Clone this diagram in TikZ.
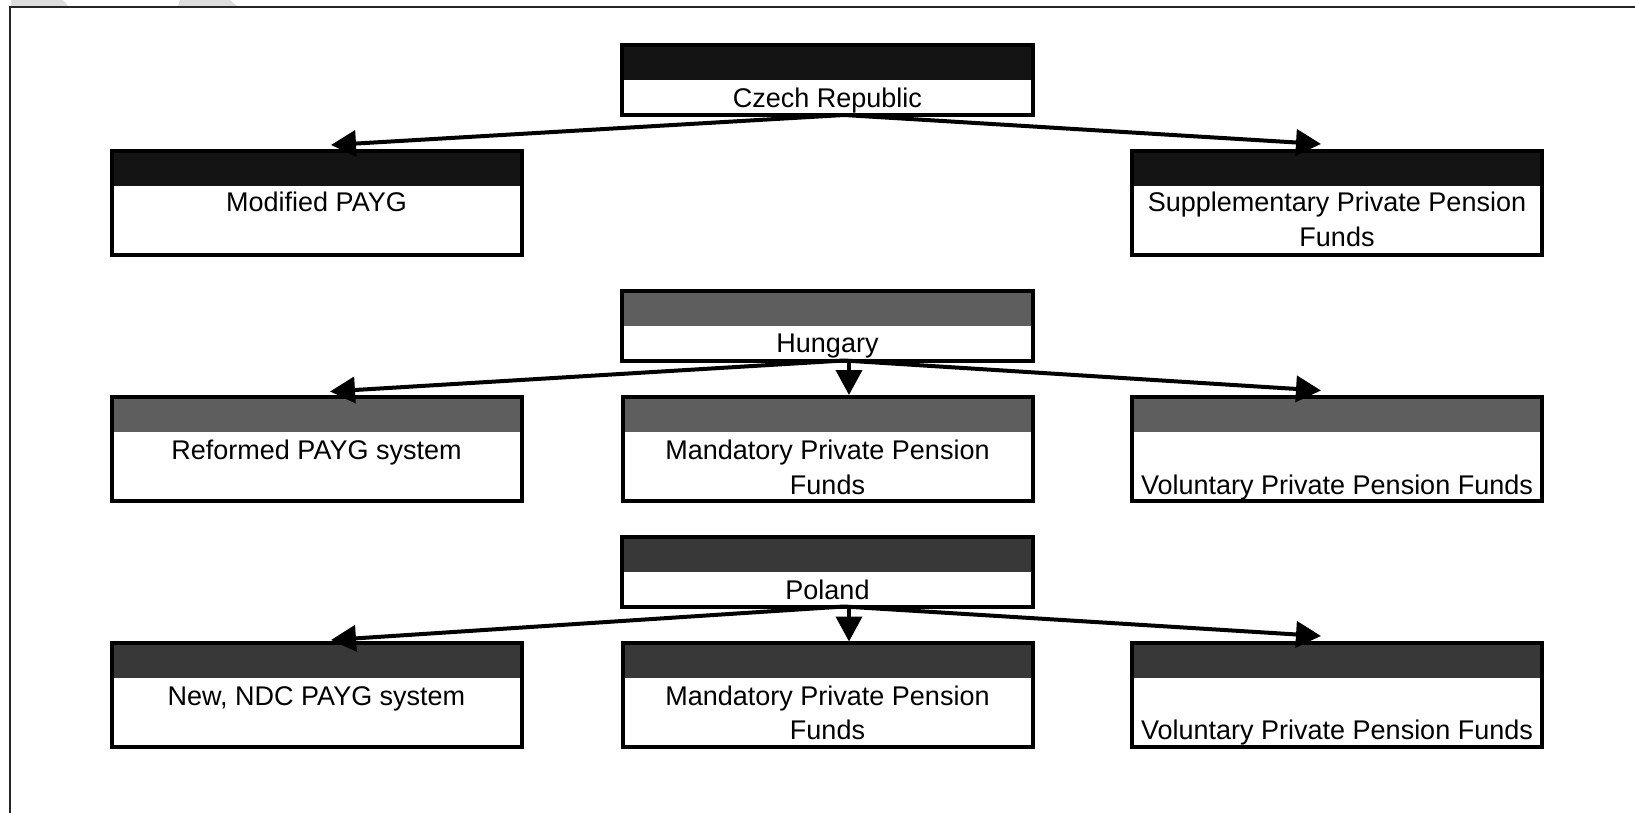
\documentclass[tikz,border=0pt]{standalone}
\usepackage{fontspec}
\setmainfont{Liberation Sans}
\usetikzlibrary{arrows.meta}
\definecolor{hdrA}{HTML}{141414}
\definecolor{hdrB}{HTML}{5E5E5E}
\definecolor{hdrC}{HTML}{383838}
\definecolor{ghost}{HTML}{DDDDDD}
\tikzset{
  box/.style={draw=black, line width=2pt, rectangle, inner sep=0pt, outer sep=0pt,
    fill=white, minimum width=205pt, minimum height=52pt},
  hbox/.style={box, path picture={\fill[#1] (path picture bounding box.north west)
    rectangle ([yshift=-17.5pt]path picture bounding box.north east);}},
  cbox/.style={hbox=#1, minimum width=205.5pt, minimum height=35pt},
  lbl/.style={anchor=base, inner sep=0pt, outer sep=0pt, font=\fontsize{13.5}{16}\selectfont},
  arr/.style={line width=2pt, -{Triangle[length=12.5pt, width=13pt]}},
  frame/.style={line width=1.3pt, draw=black!85}
}
\begin{document}
\begin{tikzpicture}[x=0.5pt, y=-0.5pt]
\useasboundingbox (0,0) rectangle (1635,813);
% faint shapes at top edge
\fill[ghost] (11,0) -- (63,0) -- (68,6) -- (11,6) -- cycle;
\fill[ghost] (180,0) -- (230,0) -- (237,6) -- (178,6) -- cycle;
% frame
\draw[frame] (10,813) -- (10,7) -- (1635,7);

% Czech Republic
\node[cbox=hdrA] (cz) at (827.5,80) {};
\node[hbox=hdrA] (mp) at (316.5,203) {};
\node[hbox=hdrA] (sp) at (1337,203) {};
% Hungary
\node[cbox=hdrB] (hu) at (827.5,325.5) {};
\node[hbox=hdrB] (rp) at (316.5,448.5) {};
\node[hbox=hdrB] (mh) at (827.5,448.5) {};
\node[hbox=hdrB] (vh) at (1337,448.5) {};
% Poland
\node[cbox=hdrC] (pl) at (827.5,571.5) {};
\node[hbox=hdrC] (np) at (316.5,695) {};
\node[hbox=hdrC] (mq) at (827.5,695) {};
\node[hbox=hdrC] (vq) at (1337,695) {};

% texts
\node[lbl] (czt) at (827.5,108) {Czech Republic};
\node[lbl] (mpt) at (316.5,212) {Modified PAYG};
\node[lbl] (spa) at (1337,212) {Supplementary Private Pension};
\node[lbl] (spb) at (1337,247) {Funds};
\node[lbl] (hut) at (827.5,352.5) {Hungary};
\node[lbl] (rpt) at (316.5,459) {Reformed PAYG system};
\node[lbl] (mha) at (827.5,459) {Mandatory Private Pension};
\node[lbl] (mhb) at (827.5,494) {Funds};
\node[lbl] (vht) at (1337,494) {Voluntary Private Pension Funds};
\node[lbl] (plt) at (827.5,599.5) {Poland};
\node[lbl] (npt) at (316.5,705) {New, NDC PAYG system};
\node[lbl] (mqa) at (827.5,705) {Mandatory Private Pension};
\node[lbl] (mqb) at (827.5,739.5) {Funds};
\node[lbl] (vqt) at (1337,739.5) {Voluntary Private Pension Funds};

% connectors
\draw[arr] ([xshift=8.25pt]cz.south) -- ([xshift=7.25pt,yshift=3pt]mp.north);
\draw[arr] ([xshift=8.25pt]cz.south) -- ([xshift=-8pt,yshift=3.5pt]sp.north);

\draw[arr] ([xshift=8.25pt]hu.south) -- ([xshift=6.75pt,yshift=2.5pt]rp.north);
\draw[arr] ([xshift=10.75pt]hu.south) -- ([xshift=10.75pt,yshift=0.75pt]mh.north);
\draw[arr] ([xshift=8.25pt]hu.south) -- ([xshift=-8pt,yshift=3pt]vh.north);

\draw[arr] ([xshift=8.25pt]pl.south) -- ([xshift=7.25pt,yshift=1.5pt]np.north);
\draw[arr] ([xshift=10.75pt]pl.south) -- ([xshift=10.75pt,yshift=0.75pt]mq.north);
\draw[arr] ([xshift=8.25pt]pl.south) -- ([xshift=-8pt,yshift=3.5pt]vq.north);
\end{tikzpicture}
\end{document}
